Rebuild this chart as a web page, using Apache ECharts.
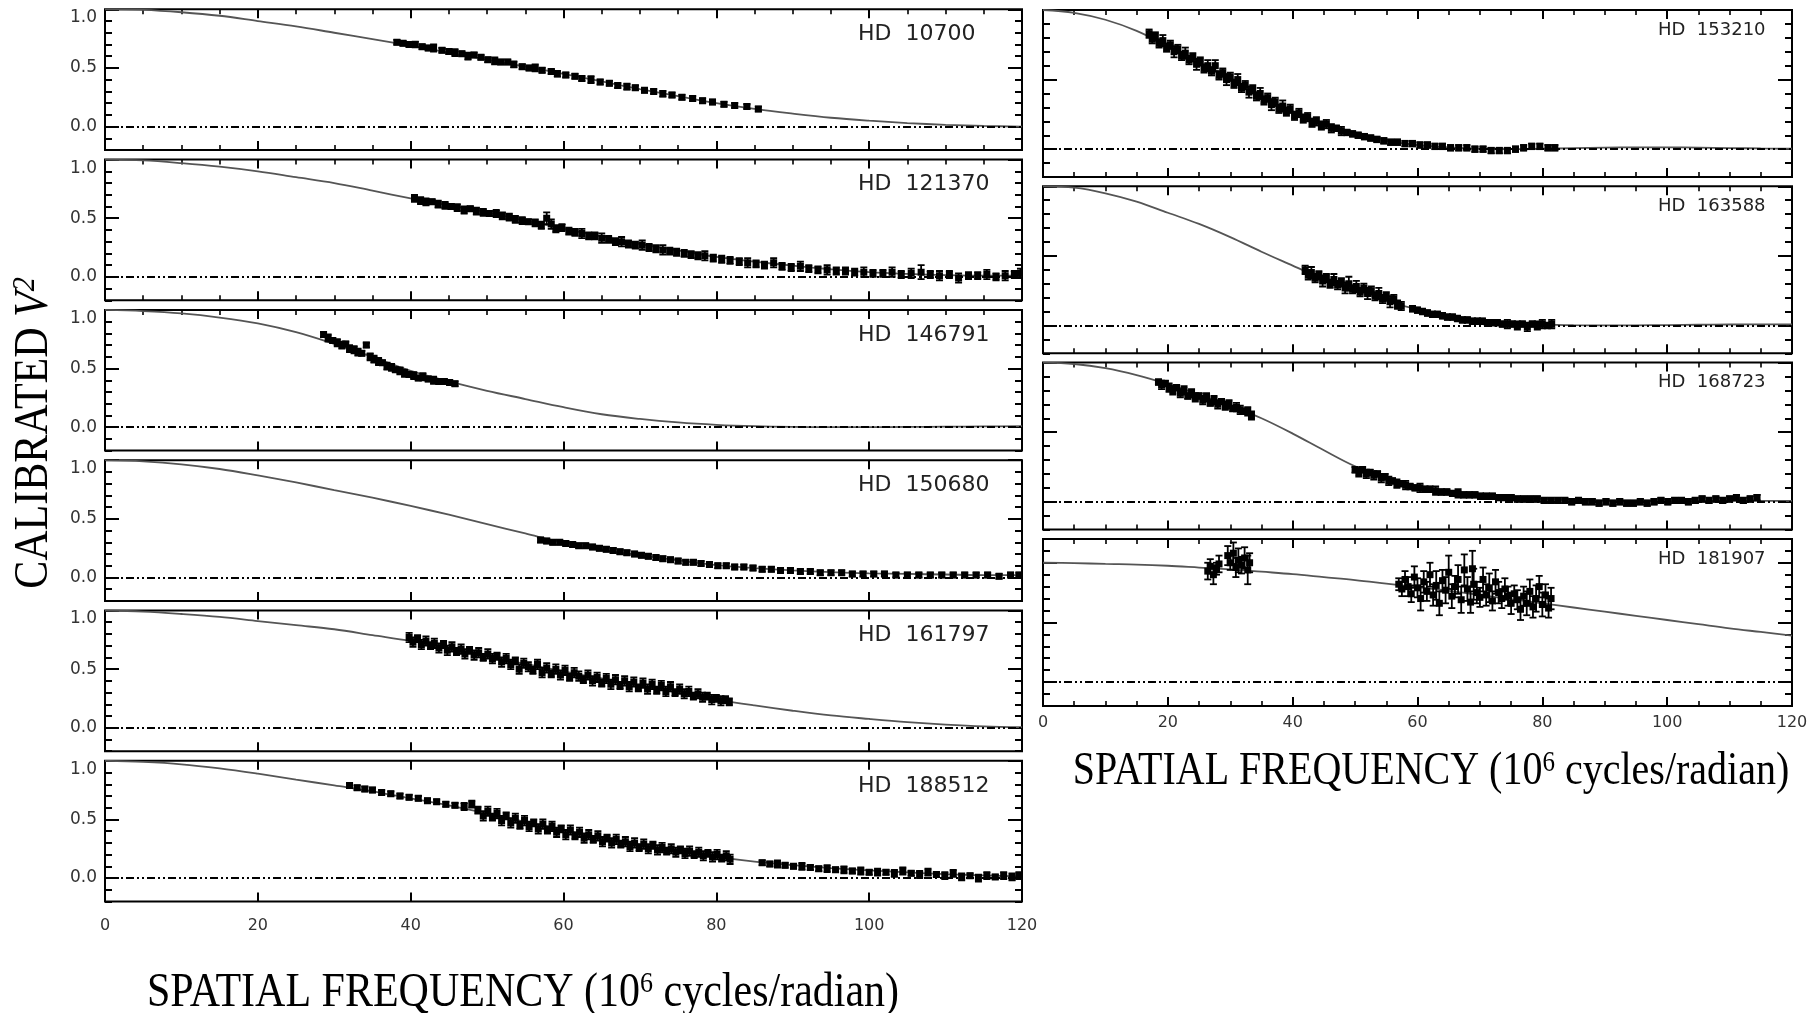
<!DOCTYPE html>
<html><head><meta charset="utf-8">
<script src="https://cdn.jsdelivr.net/npm/echarts@6/dist/echarts.min.js"></script>
<style>html,body{margin:0;padding:0;background:#fff}#c{width:1819px;height:1013px}</style>
</head><body><div id="c"></div>
<script>
// ---------------- DATA ----------------
const starNames = ['HD  10700','HD  121370','HD  146791','HD  150680','HD  161797','HD  188512',
                   'HD  153210','HD  163588','HD  168723','HD  181907'];
const curveX = [0,5,10,15,20,25,30,35,40,45,50,55,60,65,70,75,80,85,90,95,100,105,110,115,120];

const curve10700  = [1.00,0.995,0.975,0.945,0.90,0.855,0.80,0.745,0.69,0.63,0.57,0.51,0.45,0.385,0.32,0.26,0.20,0.15,0.11,0.075,0.05,0.03,0.015,0.005,0.0];
const curve121370 = [1.00,0.993,0.97,0.94,0.90,0.85,0.80,0.735,0.67,0.61,0.55,0.48,0.41,0.345,0.28,0.225,0.17,0.13,0.095,0.065,0.04,0.025,0.015,0.01,0.01];
const curve146791 = [1.00,0.99,0.97,0.935,0.885,0.81,0.71,0.60,0.48,0.39,0.31,0.24,0.17,0.11,0.07,0.04,0.02,0.008,0.002,0.0,0.0,0.002,0.004,0.006,0.008];
const curve150680 = [1.00,0.99,0.965,0.925,0.87,0.81,0.745,0.68,0.61,0.535,0.455,0.375,0.295,0.24,0.19,0.145,0.105,0.08,0.06,0.045,0.035,0.03,0.025,0.02,0.02];
const curve161797 = [1.00,0.99,0.97,0.945,0.91,0.875,0.84,0.79,0.74,0.675,0.61,0.545,0.48,0.42,0.36,0.30,0.24,0.19,0.145,0.105,0.075,0.048,0.027,0.012,0.005];
const curve188512 = [1.00,0.99,0.97,0.935,0.89,0.84,0.79,0.74,0.68,0.62,0.55,0.48,0.41,0.345,0.285,0.23,0.18,0.14,0.11,0.085,0.065,0.048,0.033,0.022,0.015];
const curve153210 = [1.00,0.98,0.93,0.85,0.74,0.62,0.50,0.38,0.27,0.18,0.11,0.06,0.03,0.012,0.003,0.0,0.003,0.007,0.011,0.013,0.013,0.011,0.008,0.005,0.003];
const curve163588 = [1.00,0.99,0.95,0.89,0.81,0.73,0.635,0.53,0.43,0.33,0.25,0.175,0.115,0.07,0.04,0.02,0.008,0.002,0.0,0.001,0.003,0.005,0.007,0.008,0.008];
const curve168723 = [1.00,0.99,0.96,0.91,0.845,0.77,0.69,0.60,0.49,0.37,0.255,0.17,0.11,0.075,0.05,0.033,0.02,0.012,0.007,0.005,0.005,0.005,0.006,0.006,0.007];
const curve181907 = [1.00,0.997,0.99,0.985,0.975,0.96,0.945,0.925,0.905,0.88,0.855,0.825,0.795,0.765,0.73,0.695,0.66,0.625,0.59,0.555,0.52,0.485,0.45,0.42,0.39];

// measured points: [spatial frequency, V^2, error]
const data10700 = [[38.2,0.72,0.02],[39.0,0.71,0.02],[39.8,0.70,0.02],[40.6,0.70,0.025],[41.5,0.68,0.02],[42.3,0.67,0.02],[43.0,0.67,0.03],[44.1,0.65,0.02],[45.0,0.64,0.02],[45.8,0.63,0.03],[46.7,0.62,0.02],[47.5,0.60,0.03],[48.3,0.61,0.02],[49.2,0.59,0.02],[50.1,0.57,0.02],[51.0,0.56,0.03],[51.8,0.55,0.02],[52.7,0.55,0.02],[53.5,0.53,0.025],[54.6,0.51,0.02],[55.5,0.50,0.02],[56.3,0.50,0.03],[57.2,0.48,0.02],[58.4,0.47,0.02],[59.2,0.45,0.025],[60.3,0.44,0.02],[61.5,0.43,0.02],[62.4,0.41,0.02],[63.6,0.40,0.03],[64.8,0.38,0.02],[66.0,0.37,0.02],[67.1,0.35,0.02],[68.3,0.34,0.025],[69.4,0.33,0.02],[70.6,0.31,0.02],[71.8,0.30,0.02],[73.0,0.28,0.025],[74.2,0.27,0.02],[75.5,0.25,0.02],[76.9,0.24,0.02],[78.2,0.22,0.02],[79.5,0.21,0.02],[81.0,0.19,0.02],[82.4,0.18,0.02],[84.0,0.17,0.02],[85.5,0.15,0.02]];
const data121370 = [[40.5,0.67,0.03],[41.3,0.65,0.03],[42.0,0.64,0.03],[42.8,0.64,0.02],[43.6,0.62,0.03],[44.5,0.61,0.03],[45.3,0.60,0.02],[46.1,0.59,0.03],[47.0,0.57,0.03],[47.8,0.58,0.02],[48.6,0.56,0.03],[49.5,0.55,0.03],[50.3,0.54,0.02],[51.2,0.54,0.03],[52.0,0.52,0.03],[52.9,0.51,0.03],[53.7,0.49,0.03],[54.6,0.48,0.03],[55.4,0.47,0.02],[56.3,0.46,0.03],[57.1,0.44,0.03],[57.8,0.50,0.05],[58.4,0.45,0.04],[59.0,0.41,0.03],[59.8,0.42,0.03],[60.7,0.39,0.03],[61.5,0.38,0.03],[62.4,0.37,0.04],[63.3,0.35,0.03],[64.1,0.35,0.03],[65.0,0.33,0.04],[65.9,0.32,0.03],[66.8,0.30,0.03],[67.6,0.30,0.04],[68.5,0.28,0.03],[69.4,0.27,0.03],[70.3,0.27,0.04],[71.2,0.25,0.03],[72.1,0.24,0.03],[73.0,0.23,0.04],[73.9,0.22,0.03],[74.8,0.21,0.03],[75.8,0.20,0.03],[76.7,0.19,0.03],[77.6,0.18,0.03],[78.5,0.18,0.04],[79.6,0.16,0.03],[80.7,0.15,0.03],[81.8,0.14,0.03],[83.0,0.13,0.03],[84.1,0.12,0.04],[85.2,0.11,0.03],[86.3,0.10,0.03],[87.5,0.12,0.04],[88.6,0.09,0.03],[89.8,0.08,0.03],[91.0,0.09,0.04],[92.1,0.07,0.03],[93.3,0.06,0.03],[94.5,0.06,0.04],[95.7,0.05,0.03],[96.9,0.05,0.03],[98.1,0.04,0.03],[99.3,0.04,0.04],[100.5,0.03,0.03],[101.8,0.03,0.03],[103.0,0.04,0.04],[104.2,0.02,0.03],[105.5,0.03,0.04],[106.8,0.04,0.06],[108.0,0.02,0.03],[109.2,0.01,0.04],[110.5,0.02,0.03],[111.7,-0.01,0.04],[113.0,0.01,0.03],[114.2,0.01,0.03],[115.4,0.02,0.04],[116.6,0.00,0.03],[117.8,0.01,0.04],[119.0,0.02,0.03],[119.8,0.03,0.04]];
const data146791 = [[28.6,0.79,0.02],[29.2,0.76,0.03],[29.8,0.74,0.02],[30.4,0.72,0.03],[31.0,0.70,0.03],[31.5,0.71,0.02],[32.0,0.67,0.03],[32.6,0.66,0.03],[33.1,0.64,0.03],[33.6,0.63,0.02],[34.2,0.70,0.02],[34.7,0.60,0.03],[35.2,0.58,0.03],[35.8,0.56,0.03],[36.3,0.55,0.02],[36.9,0.52,0.03],[37.5,0.51,0.03],[38.0,0.49,0.02],[38.6,0.48,0.03],[39.2,0.46,0.03],[39.8,0.45,0.02],[40.4,0.44,0.03],[41.0,0.42,0.02],[41.6,0.43,0.03],[42.3,0.41,0.02],[43.0,0.40,0.03],[43.7,0.39,0.02],[44.4,0.39,0.02],[45.1,0.38,0.02],[45.8,0.37,0.02]];
const data150680 = [[57.0,0.32,0.02],[57.8,0.31,0.02],[58.6,0.30,0.02],[59.5,0.30,0.02],[60.3,0.29,0.02],[61.2,0.28,0.02],[62.0,0.27,0.02],[62.9,0.27,0.02],[63.8,0.26,0.02],[64.7,0.25,0.02],[65.6,0.24,0.02],[66.5,0.23,0.02],[67.4,0.22,0.02],[68.3,0.21,0.02],[69.3,0.20,0.02],[70.2,0.19,0.02],[71.1,0.18,0.02],[72.1,0.17,0.02],[73.0,0.16,0.02],[74.0,0.15,0.02],[75.0,0.14,0.02],[76.0,0.13,0.02],[77.0,0.13,0.02],[78.0,0.12,0.02],[79.1,0.11,0.02],[80.2,0.10,0.02],[81.3,0.10,0.02],[82.4,0.09,0.02],[83.6,0.09,0.02],[84.8,0.08,0.02],[86.0,0.07,0.02],[87.2,0.07,0.02],[88.4,0.06,0.02],[89.7,0.06,0.02],[91.0,0.05,0.02],[92.3,0.05,0.02],[93.6,0.04,0.02],[95.0,0.04,0.02],[96.4,0.04,0.02],[97.8,0.03,0.02],[99.2,0.03,0.02],[100.6,0.03,0.02],[102.0,0.03,0.02],[103.5,0.02,0.02],[105.0,0.02,0.02],[106.5,0.02,0.02],[108.0,0.02,0.02],[109.5,0.02,0.02],[111.0,0.02,0.02],[112.5,0.02,0.02],[114.0,0.02,0.02],[115.5,0.02,0.02],[117.0,0.01,0.02],[118.5,0.02,0.02],[119.6,0.02,0.02]];
const data161797 = [[39.8,0.77,0.04],[40.3,0.73,0.04],[40.9,0.76,0.03],[41.4,0.71,0.04],[42.0,0.74,0.04],[42.6,0.70,0.03],[43.1,0.72,0.04],[43.7,0.68,0.04],[44.3,0.71,0.03],[44.8,0.66,0.04],[45.4,0.69,0.04],[46.0,0.65,0.03],[46.6,0.67,0.04],[47.1,0.63,0.04],[47.7,0.66,0.03],[48.3,0.62,0.04],[48.9,0.64,0.04],[49.5,0.60,0.03],[50.1,0.63,0.04],[50.7,0.59,0.04],[51.3,0.61,0.03],[51.9,0.56,0.04],[52.5,0.59,0.04],[53.1,0.54,0.04],[53.7,0.57,0.03],[54.2,0.50,0.04],[54.8,0.55,0.04],[55.4,0.52,0.04],[56.0,0.49,0.03],[56.6,0.54,0.04],[57.2,0.47,0.04],[57.8,0.51,0.04],[58.4,0.46,0.03],[59.0,0.50,0.04],[59.6,0.45,0.04],[60.2,0.49,0.04],[60.8,0.43,0.03],[61.4,0.47,0.04],[62.0,0.44,0.04],[62.6,0.41,0.03],[63.2,0.45,0.04],[63.8,0.40,0.04],[64.4,0.43,0.04],[65.0,0.38,0.03],[65.6,0.42,0.04],[66.2,0.37,0.04],[66.8,0.41,0.04],[67.4,0.36,0.03],[68.0,0.40,0.04],[68.6,0.35,0.04],[69.2,0.39,0.04],[69.8,0.34,0.03],[70.4,0.38,0.04],[71.0,0.33,0.04],[71.6,0.37,0.04],[72.2,0.32,0.03],[72.8,0.36,0.04],[73.4,0.31,0.04],[74.0,0.35,0.04],[74.6,0.30,0.03],[75.2,0.33,0.04],[75.8,0.29,0.04],[76.4,0.31,0.04],[77.0,0.27,0.03],[77.6,0.29,0.04],[78.2,0.26,0.04],[78.8,0.27,0.03],[79.4,0.24,0.04],[80.0,0.25,0.03],[80.6,0.23,0.04],[81.2,0.24,0.03],[81.7,0.22,0.03]];
const data188512 = [[32.0,0.79,0.02],[33.0,0.77,0.02],[34.0,0.76,0.02],[35.0,0.75,0.02],[36.2,0.73,0.02],[37.4,0.72,0.02],[38.6,0.70,0.02],[39.8,0.69,0.02],[41.0,0.68,0.02],[42.2,0.66,0.02],[43.4,0.65,0.02],[44.6,0.63,0.02],[45.8,0.62,0.02],[47.0,0.61,0.03],[48.0,0.63,0.03],[48.8,0.58,0.03],[49.5,0.53,0.04],[50.1,0.57,0.04],[50.7,0.52,0.03],[51.3,0.55,0.04],[51.9,0.49,0.04],[52.5,0.53,0.03],[53.1,0.47,0.04],[53.7,0.51,0.04],[54.3,0.45,0.03],[54.9,0.49,0.04],[55.5,0.44,0.04],[56.1,0.47,0.03],[56.7,0.42,0.04],[57.3,0.46,0.04],[57.9,0.41,0.03],[58.5,0.44,0.04],[59.1,0.39,0.04],[59.7,0.42,0.03],[60.3,0.37,0.04],[60.9,0.41,0.04],[61.5,0.36,0.03],[62.1,0.39,0.04],[62.7,0.34,0.04],[63.3,0.37,0.04],[63.9,0.33,0.03],[64.5,0.36,0.04],[65.1,0.31,0.04],[65.7,0.34,0.03],[66.3,0.30,0.04],[66.9,0.33,0.04],[67.5,0.29,0.03],[68.1,0.31,0.04],[68.7,0.27,0.04],[69.3,0.30,0.04],[69.9,0.26,0.03],[70.5,0.29,0.04],[71.1,0.25,0.04],[71.7,0.28,0.03],[72.3,0.24,0.04],[72.9,0.26,0.04],[73.5,0.23,0.03],[74.1,0.25,0.04],[74.7,0.22,0.04],[75.3,0.24,0.03],[75.9,0.21,0.04],[76.5,0.23,0.04],[77.1,0.20,0.03],[77.7,0.22,0.04],[78.3,0.19,0.04],[78.9,0.21,0.03],[79.5,0.18,0.04],[80.1,0.20,0.04],[80.7,0.17,0.03],[81.3,0.19,0.04],[81.8,0.16,0.04],[86.0,0.13,0.02],[87.0,0.12,0.02],[88.0,0.12,0.03],[89.0,0.11,0.02],[90.1,0.10,0.02],[91.2,0.10,0.03],[92.3,0.09,0.02],[93.4,0.08,0.02],[94.5,0.08,0.03],[95.6,0.07,0.02],[96.7,0.07,0.03],[97.8,0.06,0.02],[98.9,0.06,0.03],[100.0,0.05,0.02],[101.1,0.05,0.03],[102.2,0.05,0.02],[103.3,0.04,0.03],[104.4,0.06,0.03],[105.5,0.04,0.02],[106.6,0.03,0.03],[107.7,0.05,0.03],[108.8,0.03,0.02],[109.9,0.02,0.03],[111.0,0.04,0.03],[112.1,0.01,0.03],[113.2,0.02,0.02],[114.3,0.00,0.03],[115.4,0.02,0.03],[116.5,0.01,0.02],[117.6,0.02,0.03],[118.7,0.01,0.03],[119.6,0.02,0.03]];
const data153210 = [[17.0,0.83,0.03],[17.5,0.79,0.03],[18.0,0.81,0.03],[18.6,0.76,0.03],[19.2,0.78,0.04],[19.8,0.73,0.03],[20.4,0.75,0.03],[21.0,0.70,0.04],[21.6,0.72,0.03],[22.2,0.67,0.03],[22.8,0.69,0.04],[23.4,0.64,0.03],[24.0,0.66,0.03],[24.6,0.61,0.04],[25.2,0.63,0.03],[25.8,0.58,0.03],[26.4,0.60,0.04],[27.0,0.56,0.03],[27.6,0.60,0.04],[28.2,0.53,0.03],[28.8,0.55,0.03],[29.4,0.50,0.04],[30.0,0.52,0.03],[30.6,0.47,0.03],[31.2,0.50,0.04],[31.8,0.44,0.03],[32.4,0.46,0.03],[33.0,0.41,0.04],[33.6,0.43,0.03],[34.2,0.38,0.03],[34.8,0.40,0.04],[35.4,0.35,0.03],[36.0,0.37,0.03],[36.6,0.32,0.04],[37.2,0.34,0.03],[37.8,0.29,0.03],[38.4,0.31,0.04],[39.0,0.27,0.03],[39.6,0.29,0.03],[40.3,0.24,0.03],[41.0,0.26,0.03],[41.7,0.22,0.03],[42.4,0.23,0.03],[43.1,0.19,0.03],[43.8,0.20,0.03],[44.6,0.17,0.03],[45.4,0.18,0.03],[46.2,0.15,0.03],[47.0,0.15,0.02],[47.8,0.13,0.03],[48.7,0.12,0.02],[49.6,0.11,0.02],[50.5,0.10,0.02],[51.5,0.09,0.02],[52.5,0.08,0.02],[53.5,0.07,0.02],[54.6,0.06,0.02],[55.7,0.05,0.02],[56.8,0.05,0.02],[58.0,0.04,0.02],[59.2,0.04,0.02],[60.4,0.03,0.02],[61.6,0.03,0.02],[62.8,0.02,0.02],[64.0,0.02,0.02],[65.3,0.01,0.02],[66.6,0.01,0.02],[67.9,0.01,0.02],[69.2,0.00,0.02],[70.5,0.00,0.02],[71.8,-0.01,0.02],[73.1,-0.01,0.02],[74.4,-0.01,0.02],[75.7,0.00,0.02],[77.0,0.01,0.02],[78.3,0.02,0.02],[79.6,0.02,0.02],[80.9,0.01,0.02],[82.0,0.01,0.02]];
const data163588 = [[42.0,0.40,0.03],[42.5,0.36,0.03],[43.0,0.38,0.04],[43.6,0.34,0.03],[44.2,0.36,0.03],[44.8,0.32,0.04],[45.4,0.34,0.03],[46.0,0.30,0.03],[46.6,0.33,0.04],[47.2,0.29,0.03],[47.8,0.31,0.03],[48.4,0.27,0.04],[49.0,0.30,0.05],[49.6,0.26,0.03],[50.2,0.28,0.04],[50.8,0.24,0.03],[51.4,0.27,0.03],[52.0,0.23,0.04],[52.6,0.25,0.03],[53.2,0.21,0.03],[53.8,0.23,0.04],[54.4,0.19,0.03],[55.0,0.21,0.03],[55.6,0.17,0.04],[56.2,0.19,0.03],[56.8,0.15,0.03],[57.4,0.14,0.03],[59.2,0.12,0.02],[60.0,0.11,0.02],[60.8,0.10,0.02],[61.6,0.09,0.02],[62.4,0.08,0.02],[63.2,0.08,0.02],[64.0,0.07,0.02],[64.8,0.06,0.02],[65.6,0.06,0.02],[66.4,0.05,0.02],[67.2,0.04,0.02],[68.0,0.04,0.02],[68.8,0.03,0.02],[69.6,0.03,0.02],[70.4,0.03,0.02],[71.2,0.02,0.02],[72.0,0.02,0.02],[72.8,0.02,0.02],[73.6,0.01,0.02],[74.4,0.01,0.03],[75.2,0.01,0.02],[76.0,0.00,0.03],[76.8,0.01,0.02],[77.6,-0.01,0.03],[78.4,0.01,0.02],[79.2,0.00,0.03],[80.0,0.01,0.03],[80.8,0.00,0.02],[81.5,0.01,0.03]];
const data168723 = [[18.5,0.86,0.02],[19.0,0.84,0.03],[19.6,0.85,0.02],[20.2,0.82,0.03],[20.8,0.80,0.03],[21.4,0.82,0.02],[22.0,0.78,0.03],[22.6,0.80,0.03],[23.2,0.76,0.02],[23.8,0.78,0.03],[24.4,0.75,0.03],[25.0,0.76,0.02],[25.6,0.73,0.03],[26.2,0.75,0.03],[26.8,0.71,0.02],[27.4,0.73,0.03],[28.0,0.70,0.03],[28.6,0.72,0.02],[29.2,0.69,0.03],[29.8,0.70,0.03],[30.4,0.67,0.02],[31.0,0.68,0.03],[31.6,0.66,0.03],[32.2,0.65,0.02],[32.8,0.65,0.03],[33.4,0.62,0.03],[50.0,0.23,0.02],[50.6,0.21,0.03],[51.2,0.23,0.02],[51.8,0.20,0.03],[52.4,0.21,0.02],[53.0,0.19,0.03],[53.6,0.20,0.02],[54.2,0.17,0.03],[54.8,0.18,0.02],[55.4,0.15,0.03],[56.0,0.15,0.02],[56.7,0.13,0.03],[57.4,0.13,0.02],[58.1,0.12,0.03],[58.8,0.11,0.02],[59.6,0.10,0.02],[60.4,0.10,0.03],[61.2,0.09,0.02],[62.0,0.09,0.02],[62.9,0.08,0.03],[63.8,0.07,0.02],[64.7,0.07,0.02],[65.6,0.06,0.02],[66.5,0.06,0.03],[67.4,0.05,0.02],[68.3,0.05,0.02],[69.2,0.05,0.02],[70.1,0.04,0.02],[71.0,0.04,0.02],[72.0,0.04,0.02],[73.0,0.03,0.02],[74.0,0.03,0.02],[75.0,0.03,0.02],[76.0,0.02,0.02],[77.0,0.02,0.02],[78.1,0.02,0.02],[79.2,0.02,0.02],[80.3,0.01,0.02],[81.4,0.01,0.02],[82.5,0.01,0.02],[83.6,0.01,0.02],[84.7,0.00,0.02],[85.8,0.01,0.02],[86.9,0.00,0.02],[88.0,0.00,0.02],[89.1,-0.01,0.02],[90.2,0.00,0.02],[91.3,-0.01,0.02],[92.4,0.00,0.02],[93.5,-0.01,0.02],[94.6,-0.01,0.02],[95.7,0.00,0.02],[96.8,-0.01,0.02],[97.9,0.00,0.02],[99.0,0.01,0.02],[100.1,0.00,0.02],[101.2,0.01,0.02],[102.3,0.01,0.02],[103.4,0.00,0.02],[104.5,0.01,0.02],[105.6,0.02,0.02],[106.7,0.01,0.02],[107.8,0.02,0.02],[108.9,0.01,0.02],[110.0,0.02,0.02],[111.1,0.03,0.02],[112.2,0.01,0.02],[113.3,0.02,0.02],[114.4,0.03,0.02]];
const data181907 = [[26.4,0.93,0.07],[26.8,0.97,0.06],[27.3,0.90,0.08],[27.8,0.95,0.05],[28.2,0.99,0.07],[29.6,1.06,0.08],[30.0,1.00,0.06],[30.5,1.08,0.09],[30.9,0.96,0.08],[31.3,1.02,0.10],[31.8,0.98,0.07],[32.3,1.04,0.09],[32.8,0.94,0.12],[33.1,1.00,0.08],[57.0,0.82,0.05],[57.5,0.78,0.06],[58.0,0.86,0.07],[58.5,0.80,0.08],[59.0,0.74,0.07],[59.5,0.88,0.09],[60.0,0.79,0.08],[60.5,0.70,0.10],[61.0,0.84,0.09],[61.5,0.76,0.08],[62.0,0.90,0.10],[62.5,0.73,0.09],[63.0,0.81,0.12],[63.5,0.66,0.10],[64.0,0.85,0.09],[64.5,0.77,0.11],[65.0,0.92,0.14],[65.5,0.72,0.10],[66.0,0.80,0.09],[66.5,0.86,0.12],[67.0,0.69,0.11],[67.5,0.94,0.13],[68.0,0.78,0.10],[68.5,0.67,0.09],[68.8,0.95,0.15],[69.0,0.82,0.13],[69.5,0.75,0.09],[70.0,0.71,0.08],[70.5,0.86,0.10],[71.0,0.73,0.09],[71.5,0.79,0.12],[72.0,0.68,0.08],[72.5,0.84,0.10],[73.0,0.75,0.09],[73.5,0.70,0.08],[74.0,0.78,0.09],[74.5,0.72,0.08],[75.0,0.66,0.09],[75.5,0.74,0.07],[76.0,0.69,0.08],[76.5,0.61,0.09],[77.0,0.72,0.08],[77.5,0.66,0.10],[78.0,0.76,0.10],[78.5,0.63,0.09],[79.0,0.70,0.11],[79.5,0.80,0.09],[80.0,0.65,0.10],[80.5,0.73,0.09],[81.0,0.62,0.08],[81.4,0.70,0.09]];

const majorYTicks = [0, 0.5, 1.0];
const xTitle = ['SPATIAL FREQUENCY (10', '6', ' cycles/radian)'];
const yTitle = ['CALIBRATED ', 'V', '2'];

// ---------------- PANEL SETUP ----------------
const curves = [curve10700,curve121370,curve146791,curve150680,curve161797,curve188512,curve153210,curve163588,curve168723,curve181907];
const datas  = [data10700,data121370,data146791,data150680,data161797,data188512,data153210,data163588,data168723,data181907];
const yMaxes = [1,1,1,1,1,1,1,1,1,1.2];
const xMinor = [[true,true],[true,true],[false,true],[false,false],[false,false],[false,false],[true,true],[true,true],[true,true],[true,true]];

const grids=[], xAxes=[], yAxes=[], series=[], graphics=[];
starNames.forEach((name,i)=>{
  const col = i<6 ? 0 : 1, row = i<6 ? i : i-6;
  const L = col===0 ? {left:105,width:917,top:9.3+150.3*row,height:140.7}
                    : {left:1043,width:749,top:10+176.3*row,height:167};
  grids.push(Object.assign({show:true,borderColor:'#000',borderWidth:2,backgroundColor:'#fff'},L));
  const showXLab = (col===0 && row===5) || (col===1 && row===3);
  ['bottom','top'].forEach((pos,k)=>{
    xAxes.push({gridIndex:i,type:'value',min:0,max:120,interval:20,position:pos,
      axisLine:{show:false,onZero:false},splitLine:{show:false},
      axisTick:{show:true,inside:true,length:9,lineStyle:{color:'#000',width:2}},
      minorTick:{show:xMinor[i][k],splitNumber:4,length:5,lineStyle:{color:'#000',width:1.6}},
      minorSplitLine:{show:false},
      axisLabel:{show:pos==='bottom'&&showXLab,margin:col===0?16:9,fontFamily:'DejaVu Sans',fontSize:16,color:'#333'}});
  });
  ['left','right'].forEach(pos=>{
    yAxes.push({gridIndex:i,type:'value',min:-0.2,max:yMaxes[i],interval:0.1,position:pos,offset:0,
      axisLine:{show:false,onZero:false},splitLine:{show:false},
      axisTick:{show:true,inside:true,length:7,lineStyle:{color:'#000',width:2}},
      axisLabel:{show:false}});
    yAxes.push({gridIndex:i,type:'value',min:-0.2,max:yMaxes[i],position:pos,offset:0,
      axisLine:{show:false,onZero:false},splitLine:{show:false},
      axisTick:{show:true,inside:true,length:14,customValues:majorYTicks,lineStyle:{color:'#000',width:2}},
      axisLabel:{show:pos==='left'&&col===0,customValues:majorYTicks,formatter:v=>v.toFixed(1),
        fontFamily:'DejaVu Sans',fontSize:17,color:'#333',margin:8,verticalAlignMaxLabel:'top'}});
  });
  series.push({type:'line',xAxisIndex:2*i,yAxisIndex:4*i,data:curveX.map((x,k)=>[x,curves[i][k]]),
    smooth:0.35,showSymbol:false,silent:true,z:2,
    lineStyle:{color:'#555',width:1.8},
    markLine:{silent:true,symbol:['none','none'],label:{show:false},
      lineStyle:{color:'#000',width:2,type:[8,3,2,3,2,3]},data:[{yAxis:0}]}});
  series.push({type:'custom',xAxisIndex:2*i,yAxisIndex:4*i,data:datas[i],z:3,clip:true,
    encode:{x:0,y:1},
    renderItem:function(params,api){
      const x=api.value(0),y=api.value(1),e=api.value(2);
      const p=api.coord([x,y]),hi=api.coord([x,y+e]),lo=api.coord([x,y-e]);
      const cw=3.5,st={stroke:'#000',lineWidth:1.8};
      return {type:'group',children:[
        {type:'line',shape:{x1:p[0],y1:hi[1],x2:p[0],y2:lo[1]},style:st},
        {type:'line',shape:{x1:p[0]-cw,y1:hi[1],x2:p[0]+cw,y2:hi[1]},style:st},
        {type:'line',shape:{x1:p[0]-cw,y1:lo[1],x2:p[0]+cw,y2:lo[1]},style:st},
        {type:'rect',shape:{x:p[0]-3.5,y:p[1]-3.5,width:7,height:7},style:{fill:'#000'}}]};
    }});
  graphics.push({type:'text',x:col===0?858:1658,y:L.top+(col===0?25:20),z:10,
    style:{text:name,fill:'#222',font:(col===0?'22px':'18px')+' "DejaVu Sans"',textVerticalAlign:'middle'}});
});

const serif='"Liberation Serif"';
function xTitleGraphic(cx,cy,fs){
  return {type:'text',x:cx,y:cy,scaleY:1.15,z:10,style:{
    text:'{a|'+xTitle[0]+'}{s|'+xTitle[1]+'}{a|'+xTitle[2]+'}',
    align:'center',verticalAlign:'middle',
    rich:{a:{fontFamily:serif,fontSize:fs,fill:'#000'},s:{fontFamily:serif,fontSize:Math.round(fs*0.62),verticalAlign:'top',fill:'#000'}}}};
}
graphics.push(xTitleGraphic(523,993,42));
graphics.push(xTitleGraphic(1431,772,40));
graphics.push({type:'text',x:34,y:433,rotation:Math.PI/2,scaleY:1.15,z:10,style:{
  text:'{a|'+yTitle[0]+'}{v|'+yTitle[1]+'}{s|'+yTitle[2]+'}',align:'center',verticalAlign:'middle',
  rich:{a:{fontFamily:serif,fontSize:42,fill:'#000'},v:{fontFamily:serif,fontSize:42,fontStyle:'italic',fill:'#000'},
        s:{fontFamily:serif,fontSize:28,fontStyle:'italic',verticalAlign:'top',fill:'#000'}}}});

const chart = echarts.init(document.getElementById('c'));
chart.setOption({animation:false,backgroundColor:'#fff',grid:grids,xAxis:xAxes,yAxis:yAxes,series:series,graphic:graphics});
</script></body></html>
